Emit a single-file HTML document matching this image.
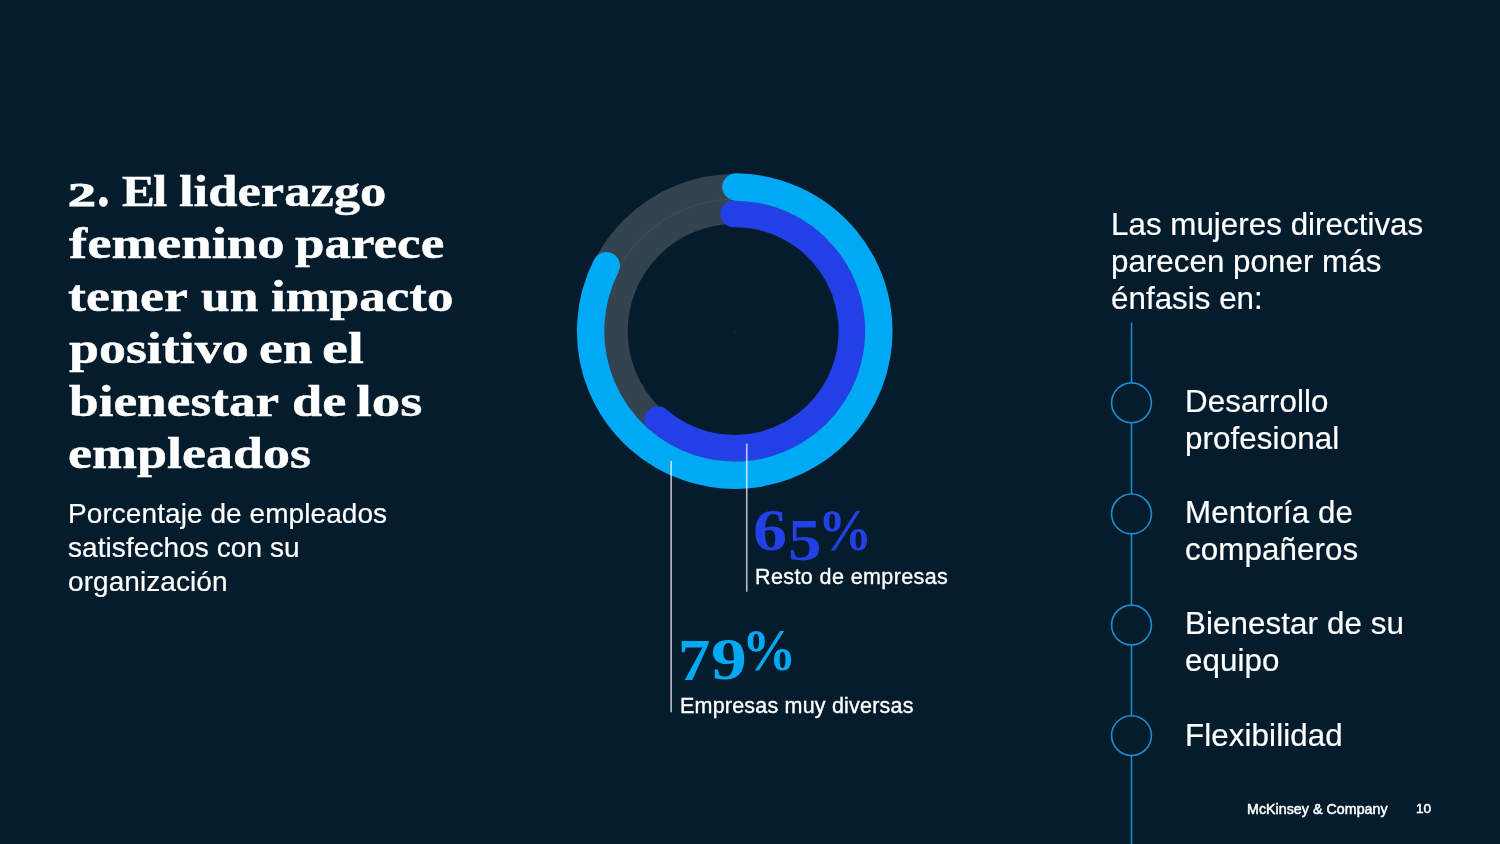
<!DOCTYPE html>
<html lang="es">
<head>
<meta charset="utf-8">
<title>El liderazgo femenino</title>
<style>
  html,body{margin:0;padding:0;background:#051c2c;}
  body{width:1500px;height:844px;overflow:hidden;position:relative;font-family:"Liberation Sans",Arial,sans-serif;color:#fff;}
  .slide{position:absolute;left:0;top:0;width:1500px;height:844px;background:#051c2c;overflow:hidden;}
  .donut{position:absolute;left:0;top:0;}
  .abs{position:absolute;white-space:nowrap;margin:0;will-change:transform;}
  .serif{position:absolute;left:0;top:0;margin:0;will-change:transform;font-family:"Liberation Serif","Times New Roman",serif;font-weight:bold;white-space:nowrap;}
  .serif br{display:none;}
  .w{position:absolute;display:block;line-height:1;transform-origin:0 0;white-space:nowrap;}
  h1.title{font-size:45px;color:#fff;-webkit-text-stroke:0.45px #fff;}
  .sub{left:68px;top:497px;font-size:28px;line-height:34px;color:#fff;letter-spacing:0.07px;-webkit-text-stroke:0.2px #fff;}
  .lead{left:1111px;top:206.3px;font-size:31.3px;line-height:37.2px;letter-spacing:0.04px;-webkit-text-stroke:0.2px #fff;}
  .item{left:1184.8px;font-size:31.3px;line-height:37.3px;letter-spacing:0.1px;-webkit-text-stroke:0.2px #fff;}
  .cap{font-size:21.5px;line-height:26px;letter-spacing:0.4px;-webkit-text-stroke:0.35px #fff;}
  .foot{font-size:14px;line-height:16px;-webkit-text-stroke:0.5px #fff;}
</style>
</head>
<body>
<div class="slide">
<svg class="donut" width="1500" height="844" viewBox="0 0 1500 844">
  <circle cx="734.7" cy="331.1" r="132" fill="none" stroke="#33434f" stroke-width="50"/>
  <circle cx="734.8" cy="331.6" r="1.2" fill="#0e2737"/>
  <circle cx="734.7" cy="331.1" r="131.8" fill="none" stroke="#3d4d58" stroke-width="1.3"/>
  <path d="M733.68 213.90A117.2 117.2 0 1 1 657.81 419.55" fill="none" stroke="#2240e6" stroke-width="26.6" stroke-linecap="round"/>
  <path d="M735.96 187.01A144.1 144.1 0 1 1 606.31 265.68" fill="none" stroke="#00a9f4" stroke-width="27.4" stroke-linecap="round"/>
  <rect x="670.3" y="461" width="1.7" height="251.3" fill="#fff" fill-opacity="0.68"/>
  <rect x="745.9" y="443.7" width="1.7" height="148.1" fill="#fff" fill-opacity="0.68"/>
  <rect x="1130.75" y="322.5" width="1.5" height="522" fill="#1d8cd1"/>
  <circle cx="1131.5" cy="402.8" r="19.9" fill="#051c2c" stroke="#1d8cd1" stroke-width="1.6"/>
  <circle cx="1131.5" cy="513.9" r="19.9" fill="#051c2c" stroke="#1d8cd1" stroke-width="1.6"/>
  <circle cx="1131.5" cy="625.0" r="19.9" fill="#051c2c" stroke="#1d8cd1" stroke-width="1.6"/>
  <circle cx="1131.5" cy="735.6" r="19.9" fill="#051c2c" stroke="#1d8cd1" stroke-width="1.6"/>
</svg>
<h1 class="serif title">
<span class="w" style="left:68.46px;top:178.28px;font-size:33.34px;transform:scaleX(1.6660);-webkit-text-stroke:1.1px #fff;">2</span><span class="w" style="left:96.92px;top:157.96px;font-size:57.60px;transform:scaleX(0.8796);">.</span> <span class="w" style="left:121.53px;top:169.70px;font-size:43.58px;transform:scaleX(1.1296);">E</span><span class="w" style="left:152.99px;top:168.51px;font-size:45.00px;transform:scaleX(1.1467);">l</span> <span class="w" style="left:178.88px;top:168.51px;font-size:45.00px;transform:scaleX(1.1686);">liderazgo</span><br>
<span class="w" style="left:68.80px;top:221.01px;font-size:45.00px;transform:scaleX(1.2149);">femenino</span> <span class="w" style="left:295.20px;top:221.01px;font-size:45.00px;transform:scaleX(1.1782);">parece</span><br>
<span class="w" style="left:67.96px;top:273.51px;font-size:45.00px;transform:scaleX(1.1997);">tener</span> <span class="w" style="left:200.50px;top:273.51px;font-size:45.00px;transform:scaleX(1.1443);">un</span> <span class="w" style="left:271.17px;top:273.51px;font-size:45.00px;transform:scaleX(1.1775);">impacto</span><br>
<span class="w" style="left:68.80px;top:326.01px;font-size:45.00px;transform:scaleX(1.1970);">positivo</span> <span class="w" style="left:258.82px;top:326.01px;font-size:45.00px;transform:scaleX(1.1928);">en</span> <span class="w" style="left:322.18px;top:326.01px;font-size:45.00px;transform:scaleX(1.2942);">el</span><br>
<span class="w" style="left:69.30px;top:378.51px;font-size:45.00px;transform:scaleX(1.1846);">bienestar</span> <span class="w" style="left:291.60px;top:378.51px;font-size:45.00px;transform:scaleX(1.2088);">de</span> <span class="w" style="left:355.61px;top:378.51px;font-size:45.00px;transform:scaleX(1.2663);">los</span><br>
<span class="w" style="left:67.61px;top:431.01px;font-size:45.00px;transform:scaleX(1.2003);">empleados</span>
</h1>
<p class="abs sub">Porcentaje de empleados<br>satisfechos con su<br>organización</p>

<div class="serif" style="color:#2240e6;"><span class="w" style="left:753.28px;top:502.19px;font-size:58.62px;transform:scaleX(1.1596);">6</span><span class="w" style="left:787.81px;top:512.05px;font-size:58.20px;transform:scaleX(1.1508);">5</span><span class="w" style="left:818.22px;top:502.19px;font-size:58.62px;transform:scaleX(0.9238);">%</span></div>
<p class="abs cap" style="left:755px;top:564px;">Resto de empresas</p>

<div class="serif" style="color:#00a9f4;"><span class="w" style="left:678.17px;top:631.31px;font-size:58.97px;transform:scaleX(1.0969);">7</span><span class="w" style="left:711.08px;top:631.44px;font-size:58.33px;transform:scaleX(1.2259);">9</span><span class="w" style="left:742.21px;top:622.44px;font-size:58.33px;transform:scaleX(0.9306);">%</span></div>
<p class="abs cap" style="left:680px;top:692.5px;letter-spacing:0.2px;">Empresas muy diversas</p>

<p class="abs lead">Las mujeres directivas<br>parecen poner más<br>énfasis en:</p>
<p class="abs item" style="top:383px;">Desarrollo<br>profesional</p>
<p class="abs item" style="top:494px;">Mentoría de<br>compañeros</p>
<p class="abs item" style="top:605px;">Bienestar de su<br>equipo</p>
<p class="abs item" style="top:717px;">Flexibilidad</p>

<p class="abs foot" style="left:1247.4px;top:801.4px;font-size:14.2px;letter-spacing:0.06px;">McKinsey &amp; Company</p>
<p class="abs foot" style="left:1416.2px;top:800.8px;font-size:13.6px;">10</p>
</div>
</body>
</html>
